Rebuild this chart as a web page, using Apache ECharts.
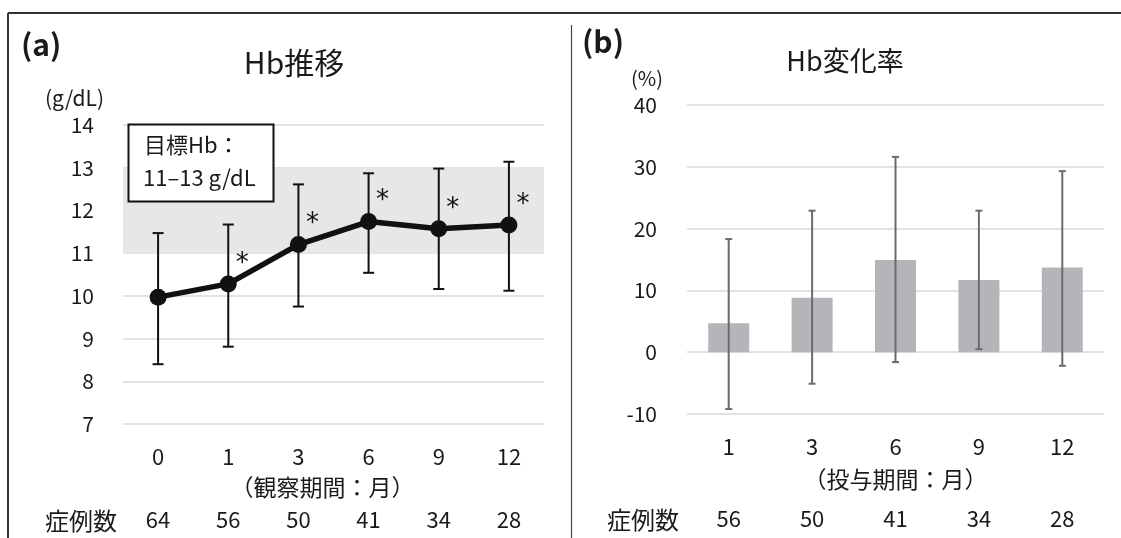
<!DOCTYPE html>
<html><head><meta charset="utf-8">
<script src="https://cdn.jsdelivr.net/npm/echarts@6/dist/echarts.min.js"></script>
<style>html,body{margin:0;padding:0;background:#fff}#c{width:1121px;height:538px}</style>
</head><body><div id="c"></div>
<script>
// ---- data ----
var monthsA = ['0', '1', '3', '6', '9', '12'];
var hbMean = [9.97, 10.28, 11.2, 11.74, 11.57, 11.66];
var hbLow = [8.4, 8.81, 9.75, 10.54, 10.16, 10.12];
var hbHigh = [11.47, 11.67, 12.61, 12.87, 12.98, 13.14];
var sigA = ['', '*', '*', '*', '*', '*'];
var countsA = ['64', '56', '50', '41', '34', '28'];
var targetRange = [11, 13];

var monthsB = ['1', '3', '6', '9', '12'];
var rateMean = [4.7, 8.8, 14.9, 11.7, 13.7];
var rateLow = [-9.2, -5.1, -1.6, 0.5, -2.2];
var rateHigh = [18.3, 22.9, 31.6, 22.9, 29.3];
var countsB = ['56', '50', '41', '34', '28'];

var FONT = '"Noto Sans CJK JP", "Noto Sans", sans-serif';
var INK = '#1a1a1a';
var chart = echarts.init(document.getElementById('c'));

function errBar(color, width, cap) {
  return function (params, api) {
    var x = api.value(0);
    var lo = api.coord([x, api.value(1)]);
    var hi = api.coord([x, api.value(2)]);
    var st = { stroke: color, lineWidth: width };
    return { type: 'group', children: [
      { type: 'line', shape: { x1: lo[0], y1: lo[1], x2: hi[0], y2: hi[1] }, style: st },
      { type: 'line', shape: { x1: lo[0] - cap, y1: lo[1], x2: lo[0] + cap, y2: lo[1] }, style: st },
      { type: 'line', shape: { x1: hi[0] - cap, y1: hi[1], x2: hi[0] + cap, y2: hi[1] }, style: st }
    ]};
  };
}
function lbl(size, margin) {
  return { margin: margin, fontSize: size, color: INK, fontFamily: FONT };
}

chart.setOption({
  animation: false,
  backgroundColor: '#fff',
  textStyle: { fontFamily: FONT },
  grid: [
    { left: 123, right: 577, top: 125, bottom: 114 },
    { left: 687, right: 17, top: 105, bottom: 124 }
  ],
  xAxis: [
    { gridIndex: 0, type: 'category', data: monthsA,
      axisLine: { show: false }, axisTick: { show: false },
      axisLabel: lbl(22, 22),
      name: '（観察期間：月）', nameLocation: 'middle', nameGap: 52,
      nameTextStyle: { fontSize: 23, color: INK, fontFamily: FONT, padding: [0, 22, 0, 0] } },
    { gridIndex: 0, type: 'category', data: countsA, position: 'bottom',
      axisLine: { show: false }, axisTick: { show: false },
      axisLabel: lbl(22, 85) },
    { gridIndex: 1, type: 'category', data: monthsB,
      axisLine: { show: false }, axisTick: { show: false },
      axisLabel: lbl(22, 22),
      name: '（投与期間：月）', nameLocation: 'middle', nameGap: 54,
      nameTextStyle: { fontSize: 23, color: INK, fontFamily: FONT } },
    { gridIndex: 1, type: 'category', data: countsB, position: 'bottom',
      axisLine: { show: false }, axisTick: { show: false },
      axisLabel: lbl(22, 94) }
  ],
  yAxis: [
    { gridIndex: 0, type: 'value', min: 7, max: 14, interval: 1,
      axisLine: { show: false }, axisTick: { show: false },
      axisLabel: lbl(21, 29),
      splitLine: { lineStyle: { color: '#d9d9d9', width: 1.5 } } },
    { gridIndex: 1, type: 'value', min: -10, max: 40, interval: 10,
      axisLine: { show: false }, axisTick: { show: false },
      axisLabel: lbl(21, 30),
      splitLine: { lineStyle: { color: '#d9d9d9', width: 1.5 } } }
  ],
  series: [
    { type: 'custom', xAxisIndex: 0, yAxisIndex: 0, z: 3,
      renderItem: errBar('#111', 2, 5.5),
      data: monthsA.map(function (m, i) { return [i, hbLow[i], hbHigh[i]]; }),
      markArea: { silent: true, itemStyle: { color: '#e6e7e8' },
        data: [[{ yAxis: targetRange[0] }, { yAxis: targetRange[1] }]] } },
    { type: 'line', xAxisIndex: 0, yAxisIndex: 0, z: 4,
      data: hbMean.map(function (v, i) { return { value: v, label: { formatter: sigA[i] } }; }),
      lineStyle: { color: '#111', width: 5.5 }, itemStyle: { color: '#111' },
      symbol: 'circle', symbolSize: 17,
      label: { show: true, position: 'right', offset: [-6, -20], fontSize: 26, color: '#111', fontFamily: 'DejaVu Sans' } },
    { type: 'bar', xAxisIndex: 2, yAxisIndex: 1, barWidth: 41, z: 2,
      itemStyle: { color: '#b4b5b8' }, data: rateMean },
    { type: 'custom', xAxisIndex: 2, yAxisIndex: 1, z: 3,
      renderItem: errBar('#6b6b6b', 2, 3.5),
      data: monthsB.map(function (m, i) { return [i, rateLow[i], rateHigh[i]]; }) }
  ],
  graphic: [
    { type: 'line', shape: { x1: 8, y1: 13, x2: 1121, y2: 13 }, style: { stroke: '#333', lineWidth: 2 } },
    { type: 'line', shape: { x1: 8, y1: 13, x2: 8, y2: 538 }, style: { stroke: '#333', lineWidth: 2 } },
    { type: 'line', shape: { x1: 571.5, y1: 25, x2: 571.5, y2: 538 }, style: { stroke: '#444', lineWidth: 1.2 } },
    { type: 'text', x: 21, y: 45, style: { text: '(a)', font: 'bold 30px ' + FONT, fill: INK, verticalAlign: 'middle' } },
    { type: 'text', x: 582, y: 42, style: { text: '(b)', font: 'bold 30px ' + FONT, fill: INK, verticalAlign: 'middle' } },
    { type: 'text', x: 294, y: 63, style: { text: 'Hb推移', font: '30px ' + FONT, fill: INK, align: 'center', verticalAlign: 'middle' } },
    { type: 'text', x: 845, y: 61, style: { text: 'Hb変化率', font: '27px ' + FONT, fill: INK, align: 'center', verticalAlign: 'middle' } },
    { type: 'text', x: 45, y: 98, style: { text: '(g/dL)', font: '21px ' + FONT, fill: INK, verticalAlign: 'middle' } },
    { type: 'text', x: 631, y: 78, style: { text: '(%)', font: '20px ' + FONT, fill: INK, verticalAlign: 'middle' } },
    { type: 'text', x: 45, y: 521, style: { text: '症例数', font: '24px ' + FONT, fill: INK, verticalAlign: 'middle' } },
    { type: 'text', x: 607, y: 520, style: { text: '症例数', font: '24px ' + FONT, fill: INK, verticalAlign: 'middle' } },
    { type: 'rect', z: 10, shape: { x: 128.5, y: 124.5, width: 145, height: 77 },
      style: { fill: '#fff', stroke: '#111', lineWidth: 2 } },
    { type: 'text', z: 11, x: 144, y: 145, style: { text: '目標Hb：', font: '22px ' + FONT, fill: INK, verticalAlign: 'middle' } },
    { type: 'text', z: 11, x: 143, y: 178, style: { text: '11–13 g/dL', font: '22px ' + FONT, fill: INK, verticalAlign: 'middle' } }
  ]
});
</script></body></html>
